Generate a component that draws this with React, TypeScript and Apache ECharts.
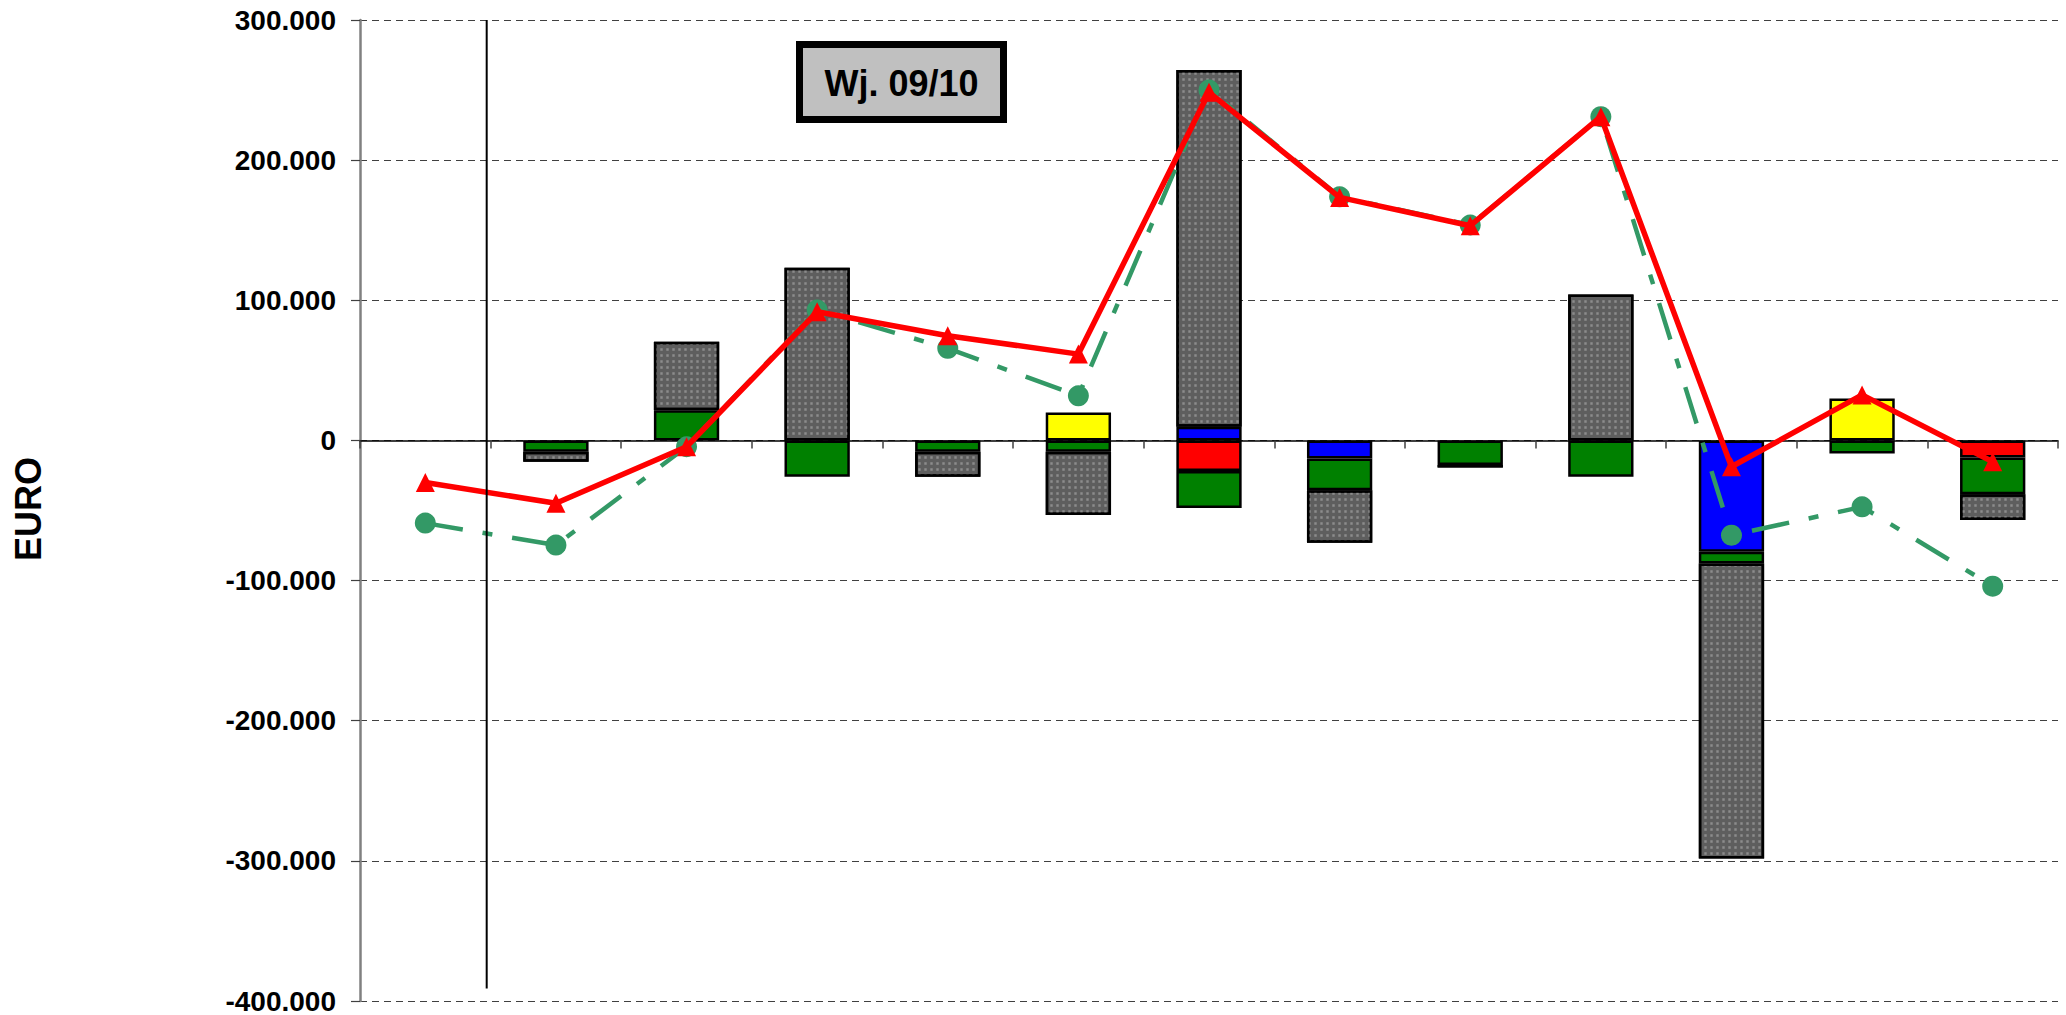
import React, { useEffect, useRef } from "react";
import * as echarts from "echarts";

// ---------- data ----------
const categories = ["1", "2", "3", "4", "5", "6", "7", "8", "9", "10", "11", "12", "13"];

// stacked bar segments (EUR); stacking order from zero outwards: red, blue, yellow, green, gray
const redSeg = [null, null, null, null, null, null, -21800, null, null, null, null, null, -12200];
const blueSeg = [null, null, null, null, null, null, 9700, -12900, null, null, -79500, null, null];
const yellowSeg = [null, null, null, null, null, 20000, null, null, null, null, null, 30000, null];
const greenSeg = [null, -8100, 21600, -26000, -8000, -8000, -26400, -22600, -17600, -26000, -8300, -9400, -26200];
const graySeg = [null, -7200, 48800, 123200, -18000, -45200, 254600, -37500, -1800, 104200, -210600, null, -18300];

// line series (EUR)
const greenLine = [-59000, -74700, -4500, 93000, 65700, 31800, 250000, 173800, 153700, 231000, -67600, -47400, -104000];
const redLine = [-30000, -44800, -4500, 91800, 74700, 61600, 248400, 173400, 153200, 231000, -18800, 32500, -15200];

// y axis
const yMin = -400000;
const yMax = 300000;
const yStep = 100000;

// vertical divider (position on a 0..13 category scale) and its extent in EUR
const dividerX = [0.97, 0.97];
const dividerY = [300000, -391000];

const boxLabel = "Wj. 09/10";
const yAxisTitle = "EURO";

const FONT = '"Liberation Sans", Arial, sans-serif';

function fmt(v: number): string {
  if (v === 0) return "0";
  const s = String(Math.abs(v)).replace(/\B(?=(\d{3})+(?!\d))/g, ".");
  return (v < 0 ? "-" : "") + s;
}

export default function App() {
  const ref = useRef<HTMLDivElement>(null);

  useEffect(() => {
    if (!ref.current) return;
    const chart = echarts.init(ref.current, null, { renderer: "svg" });

    const barBase = {
      type: "bar",
      stack: "total",
      barWidth: "50%",
      xAxisIndex: 0,
      yAxisIndex: 0,
    };
    const border = { borderColor: "#000000", borderWidth: 2.5 };

    const option: any = {
      animation: false,
      backgroundColor: "#ffffff",
      grid: { left: 360, right: 8, top: 20, bottom: 14, containLabel: false },
      xAxis: [
        {
          type: "category",
          data: categories,
          boundaryGap: true,
          axisLine: { show: true, onZero: true, lineStyle: { color: "#000000", width: 1.5 } },
          axisTick: { show: true, interval: 0, length: 8, lineStyle: { color: "#404040", width: 1.5 } },
          axisLabel: { show: false },
          splitLine: { show: false },
        },
        {
          type: "value",
          min: 0,
          max: categories.length,
          show: false,
        },
      ],
      yAxis: {
        type: "value",
        min: yMin,
        max: yMax,
        interval: yStep,
        axisLine: { show: true, lineStyle: { color: "#808080", width: 2.5 } },
        axisTick: { show: true, length: 9, lineStyle: { color: "#404040", width: 1.2 } },
        axisLabel: {
          margin: 24,
          formatter: (v: number) => fmt(v),
          fontFamily: FONT,
          fontWeight: "bold",
          fontSize: 28,
          color: "#000000",
        },
        splitLine: {
          show: true,
          lineStyle: { color: "#404040", width: 1.2, type: [7, 5] },
        },
      },
      graphic: [
        {
          type: "text",
          x: 28,
          y: 509,
          rotation: Math.PI / 2,
          style: {
            text: yAxisTitle,
            font: `bold 36px ${FONT}`,
            fill: "#000000",
            align: "center",
            verticalAlign: "middle",
          },
        },
        {
          type: "group",
          x: 796,
          y: 41,
          children: [
            {
              type: "rect",
              shape: { x: 3.5, y: 3.5, width: 204, height: 75 },
              style: { fill: "#c0c0c0", stroke: "#000000", lineWidth: 7 },
            },
            {
              type: "text",
              x: 105.5,
              y: 42,
              style: {
                text: boxLabel,
                font: `bold 36px ${FONT}`,
                fill: "#000000",
                align: "center",
                verticalAlign: "middle",
              },
            },
          ],
        },
      ],
      series: [
        { ...barBase, name: "Rot", data: redSeg, itemStyle: { color: "#ff0000", ...border } },
        { ...barBase, name: "Blau", data: blueSeg, itemStyle: { color: "#0000ff", ...border } },
        { ...barBase, name: "Gelb", data: yellowSeg, itemStyle: { color: "#ffff00", ...border } },
        { ...barBase, name: "Grün", data: greenSeg, itemStyle: { color: "#008000", ...border } },
        {
          ...barBase,
          name: "Grau",
          data: graySeg,
          itemStyle: {
            color: "#5e5e5e",
            ...border,
            decal: {
              symbol: "rect",
              symbolSize: 0.8,
              color: "#8c8c8c",
              dashArrayX: 3,
              dashArrayY: 3,
              rotation: 0,
            },
          },
        },
        {
          type: "line",
          name: "Linie grün",
          data: greenLine,
          xAxisIndex: 0,
          yAxisIndex: 0,
          symbol: "circle",
          symbolSize: 21,
          itemStyle: { color: "#339966" },
          lineStyle: { color: "#339966", width: 4.5, type: [38, 20, 10, 20] },
          z: 5,
        },
        {
          type: "line",
          name: "Linie rot",
          data: redLine,
          xAxisIndex: 0,
          yAxisIndex: 0,
          symbol: "triangle",
          symbolSize: 19,
          itemStyle: { color: "#ff0000" },
          lineStyle: { color: "#ff0000", width: 5.5 },
          z: 6,
        },
        {
          type: "line",
          name: "Trenner",
          xAxisIndex: 1,
          yAxisIndex: 0,
          data: [
            [dividerX[0], dividerY[0]],
            [dividerX[1], dividerY[1]],
          ],
          symbol: "none",
          lineStyle: { color: "#000000", width: 2 },
          silent: true,
          z: 7,
        },
      ],
    };

    chart.setOption(option);
    return () => chart.dispose();
  }, []);

  return (
    <div
      ref={ref}
      style={{ position: "fixed", left: 0, top: 0, width: "2066px", height: "1015px", background: "#fff" }}
    />
  );
}
